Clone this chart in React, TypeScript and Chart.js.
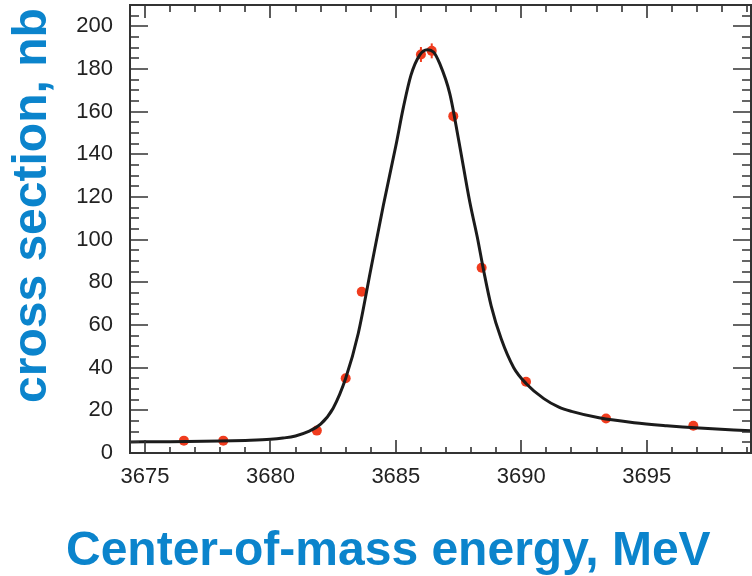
import React, { useEffect, useRef } from "react";
import { Chart, registerables } from "chart.js";

Chart.register(...registerables);

// Measured data points (center-of-mass energy, MeV / cross section, nb)
const energy = [3676.55, 3678.12, 3681.85, 3683.0, 3683.64, 3686.0, 3686.43, 3687.29, 3688.42, 3690.19, 3693.38, 3696.86];
const crossSection = [5.8, 5.8, 10.5, 35.0, 75.6, 186.8, 188.5, 157.9, 86.8, 33.4, 16.2, 12.8];
const crossSectionErr = [1.2, 1.2, 1.2, 1.5, 2.0, 3.5, 3.5, 2.5, 2.0, 1.5, 1.2, 1.2];

// Fitted curve
const fitEnergy = [3674.4, 3676, 3678, 3679, 3680, 3680.5, 3681, 3681.5, 3682, 3682.5, 3683, 3683.5, 3684, 3684.5, 3685, 3685.3, 3685.6, 3685.95, 3686.25, 3686.5, 3686.75, 3687.15, 3687.5, 3687.95, 3688.25, 3688.5, 3688.8, 3689.2, 3689.7, 3690.2, 3690.9, 3691.5, 3692, 3693.1, 3694.5, 3695.8, 3697.1, 3699.16];
const fitCrossSection = [5.2, 5.3, 5.6, 5.9, 6.4, 7.0, 8.0, 10.0, 13.5, 21.0, 35.0, 56.0, 86.0, 116.0, 144.0, 162.0, 177.0, 186.5, 189.0, 188.0, 182.5, 168.5, 147.0, 117.5, 101.0, 85.5, 69.0, 53.5, 40.0, 32.5, 25.5, 21.5, 19.5, 16.5, 14.2, 12.8, 11.7, 10.4];

const xTicks = [3675, 3680, 3685, 3690, 3695];
const yTicks = [0, 20, 40, 60, 80, 100, 120, 140, 160, 180, 200];
const xMin = 3674.4;
const xMax = 3699.16;
const yMin = 0;
const yMax = 210;
const xMinorStep = 1;
const xMajorStep = 5;
const yMinorStep = 5;
const yMajorStep = 20;

const xTitle = "Center-of-mass energy, MeV";
const yTitle = "cross section, nb";

const TITLE_COLOR = "#0b84cc";
const AXIS_COLOR = "#333333";
const POINT_COLOR = "rgb(240,60,30)";

const framePlugin = {
  id: "frameTicks",
  beforeDatasetsDraw(chart: any) {
    const { ctx, scales } = chart;
    const x = scales.x;
    const y = scales.y;
    ctx.save();
    ctx.strokeStyle = POINT_COLOR;
    ctx.lineWidth = 2;
    for (let i = 0; i < energy.length; i++) {
      const px = x.getPixelForValue(energy[i]);
      const p1 = y.getPixelForValue(crossSection[i] - crossSectionErr[i]);
      const p2 = y.getPixelForValue(crossSection[i] + crossSectionErr[i]);
      ctx.beginPath();
      ctx.moveTo(px, p1);
      ctx.lineTo(px, p2);
      ctx.stroke();
    }
    ctx.restore();
  },
  afterDraw(chart: any) {
    const { ctx, chartArea: a, scales } = chart;
    const x = scales.x;
    const y = scales.y;
    ctx.save();
    ctx.strokeStyle = AXIS_COLOR;
    ctx.lineWidth = 2;
    ctx.strokeRect(a.left, a.top, a.right - a.left, a.bottom - a.top);
    ctx.lineWidth = 1.6;
    ctx.beginPath();
    for (let v = Math.ceil(x.min / xMinorStep) * xMinorStep; v <= x.max + 1e-9; v += xMinorStep) {
      const px = Math.round(x.getPixelForValue(v));
      const major = Math.abs(v % xMajorStep) < 1e-6;
      const lb = major ? 13 : 6;
      const lt = major ? 13 : 7;
      ctx.moveTo(px, a.bottom);
      ctx.lineTo(px, a.bottom - lb);
      ctx.moveTo(px, a.top);
      ctx.lineTo(px, a.top + lt);
    }
    for (let v = Math.ceil(y.min / yMinorStep) * yMinorStep; v <= y.max + 1e-9; v += yMinorStep) {
      const py = Math.round(y.getPixelForValue(v));
      const major = Math.abs(v % yMajorStep) < 1e-6;
      const l = major ? 18 : 9;
      ctx.moveTo(a.left, py);
      ctx.lineTo(a.left + l, py);
      ctx.moveTo(a.right, py);
      ctx.lineTo(a.right - l, py);
    }
    ctx.stroke();
    ctx.restore();
  },
};

const zeroPadding = (scale: any) => {
  scale.paddingTop = 0;
  scale.paddingBottom = 0;
  scale.paddingLeft = 0;
  scale.paddingRight = 0;
};

export default function App() {
  const canvasRef = useRef<HTMLCanvasElement | null>(null);

  useEffect(() => {
    const canvas = canvasRef.current;
    if (!canvas) return;
    const tickFont = { family: "'Liberation Sans', Arial, sans-serif", size: 22 };
    const chart = new Chart(canvas, {
      type: "scatter",
      data: {
        datasets: [
          {
            type: "line",
            label: "fit",
            data: fitEnergy.map((e, i) => ({ x: e, y: fitCrossSection[i] })),
            borderColor: "#1b1b1b",
            borderWidth: 3,
            pointRadius: 0,
            fill: false,
            cubicInterpolationMode: "monotone",
            order: 0,
          } as any,
          {
            type: "scatter",
            label: "data",
            data: energy.map((e, i) => ({ x: e, y: crossSection[i] })),
            backgroundColor: POINT_COLOR,
            borderColor: POINT_COLOR,
            borderWidth: 0,
            pointRadius: 5,
            order: 1,
          } as any,
        ],
      },
      options: {
        animation: false,
        responsive: false,
        devicePixelRatio: 1,
        layout: { autoPadding: false, padding: { left: 0, top: 5, right: 1, bottom: 0 } },
        plugins: {
          legend: { display: false },
          tooltip: { enabled: false },
        },
        scales: {
          x: {
            type: "linear",
            min: xMin,
            max: xMax,
            grid: { display: false, drawTicks: false },
            border: { display: false },
            ticks: {
              autoSkip: false,
              maxRotation: 0,
              padding: 11,
              color: "#222222",
              font: tickFont,
              callback: (v: any) => String(v),
            },
            afterBuildTicks: (scale: any) => {
              scale.ticks = xTicks.map((v) => ({ value: v }));
            },
            afterFit: (scale: any) => {
              scale.height = 123;
              zeroPadding(scale);
            },
          },
          y: {
            type: "linear",
            min: yMin,
            max: yMax,
            grid: { display: false, drawTicks: false },
            border: { display: false },
            ticks: {
              autoSkip: false,
              padding: 17,
              color: "#222222",
              font: tickFont,
              callback: (v: any) => String(v),
            },
            afterBuildTicks: (scale: any) => {
              scale.ticks = yTicks.map((v) => ({ value: v }));
            },
            afterFit: (scale: any) => {
              scale.width = 130;
              zeroPadding(scale);
            },
          },
        },
      },
      plugins: [framePlugin],
    } as any);
    return () => chart.destroy();
  }, []);

  const titleFont = "bold 48px 'Liberation Sans', Arial, Helvetica, sans-serif";

  return (
    <div style={{ position: "fixed", left: 0, top: 0, width: 752, height: 576, background: "#ffffff", overflow: "hidden" }}>
      <canvas ref={canvasRef} width={752} height={576} style={{ display: "block", width: 752, height: 576 }} />
      <div
        style={{
          position: "absolute",
          left: 66,
          top: 525,
          font: titleFont,
          lineHeight: "48px",
          color: TITLE_COLOR,
          whiteSpace: "nowrap",
        }}
      >
        {xTitle}
      </div>
      <div
        style={{
          position: "absolute",
          left: 6,
          top: 403,
          font: titleFont,
          lineHeight: "48px",
          color: TITLE_COLOR,
          whiteSpace: "nowrap",
          transformOrigin: "0 0",
          transform: "rotate(-90deg)",
        }}
      >
        {yTitle}
      </div>
    </div>
  );
}
